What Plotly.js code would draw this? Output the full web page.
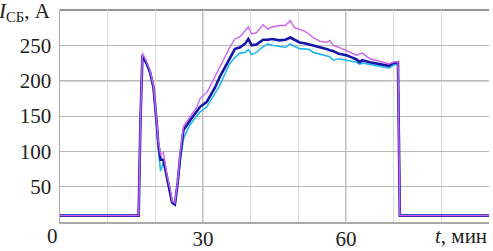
<!DOCTYPE html>
<html>
<head>
<meta charset="utf-8">
<script src="https://cdn.plot.ly/plotly-3.0.1.min.js"></script>
<style>html,body{margin:0;padding:0;background:#fff;}#chart{width:493px;height:251px;}</style>
</head>
<body>
<div id="chart"></div>
<script>
// time, minutes
const timeMin = [0, 16.5, 16.9, 17.3, 18.2, 18.9, 19.6, 19.9, 20.3, 20.6, 21.1, 21.7, 22.4, 23.1, 23.5, 24.1, 24.7, 25.2, 25.9, 27.3, 28.7, 29.4, 30.8, 31.4, 32.5, 33.5, 34.5, 35.6, 36.7, 37.7, 38.8, 39.5, 40.2, 41.2, 42.6, 43.6, 44.5, 46.1, 47.3, 48.3, 49.2, 50.3, 51.3, 52.4, 53.1, 54.5, 55.9, 56.6, 57.3, 58.5, 60.1, 61.2, 62.2, 62.9, 63.4, 65.0, 66.5, 68.0, 69.0, 70.0, 70.9, 71.3, 90];
// current, A
const currentCyan = [9, 9, 150, 235, 222, 210, 189, 168, 135, 105, 72, 85, 62, 44, 27, 24, 52, 85, 118, 138, 150, 156, 163, 170, 181, 193, 208, 224, 233, 239, 240, 244, 237, 240, 248, 252, 250, 248, 247, 252, 249, 245, 245, 244, 240, 238, 236, 234, 229, 231, 229, 227, 226, 223, 225, 223, 221, 219, 218, 222, 224, 9, 9];
const currentNavy = [9, 9, 150, 236, 224, 212, 191, 172, 140, 112, 88, 88, 65, 46, 28, 25, 56, 93, 130, 144, 156, 163, 170, 177, 190, 205, 218, 233, 245, 247, 252, 259, 250, 251, 258, 258, 259, 257, 258, 261, 258, 254, 253, 251, 250, 248, 245, 243, 242, 238, 236, 233, 230, 226, 229, 226, 224, 222, 221, 225, 226, 9, 9];
const currentMagenta = [9, 9, 150, 239, 226, 214, 193, 175, 143, 115, 95, 98, 68, 48, 30, 27, 58, 97, 135, 149, 162, 175, 183, 191, 205, 219, 232, 247, 259, 262, 270, 276, 266, 268, 279, 273, 276, 278, 278, 285, 275, 272, 270, 265, 261, 256, 254, 257, 250, 247, 243, 239, 236, 238, 239, 231, 228, 225, 224, 226, 227, 9, 9];
const xGridVals = [0, 10, 20, 30, 40, 50, 60, 70, 80, 90];
const xTickText = ['', '', '', '30', '', '', '60', '', '', ''];
const xMajor = [30, 60];
const yTicks = [50, 100, 150, 200, 250];

const fontFam = 'Liberation Serif';

const traces = [
  {x: timeMin, y: currentCyan, mode: 'lines', line: {color: '#22b8ee', width: 1.6}},
  {x: timeMin, y: currentNavy, mode: 'lines', line: {color: '#1616a8', width: 2.6}},
  {x: timeMin, y: currentMagenta, mode: 'lines', line: {color: '#cc62f0', width: 1.4}}
];

const shapes = xMajor.map(function (v) {
  return {type: 'line', xref: 'x', x0: v, x1: v, yref: 'paper', y0: 0, y1: 1, line: {color: '#a0a0a0', width: 1.3}, layer: 'below'};
}).concat([
  {type: 'line', xref: 'paper', x0: 0, x1: 1, yref: 'y', y0: 200, y1: 200, line: {color: '#606060', width: 1.2}, layer: 'below'},
  {type: 'line', xref: 'paper', x0: 0, x1: 1, yref: 'paper', y0: 1, y1: 1, line: {color: '#707070', width: 1.5}, layer: 'below'}
]);

const layout = {
  width: 493, height: 251,
  margin: {l: 60, r: 4, t: 10, b: 29},
  showlegend: false,
  font: {family: fontFam, size: 21, color: '#222'},
  xaxis: {
    range: [0, 90], tickvals: xGridVals, ticktext: xTickText,
    showgrid: true, gridcolor: '#dcdcdc', gridwidth: 1,
    showline: true, linecolor: '#aaaaaa', linewidth: 1.5,
    zeroline: false, ticklabelstandoff: -3,
    tickfont: {family: fontFam, size: 21, color: '#222'}
  },
  yaxis: {
    range: [0, 300], tickvals: yTicks,
    showgrid: true, gridcolor: '#b8b8b8', gridwidth: 1,
    showline: true, linecolor: '#aaaaaa', linewidth: 1.5,
    zeroline: false, ticklabelstandoff: 3,
    tickfont: {family: fontFam, size: 21, color: '#222'}
  },
  shapes: shapes,
  annotations: [
    {text: '<i>I</i><sub>СБ</sub>, А', xref: 'paper', yref: 'paper', x: 0, y: 1, xanchor: 'right', yanchor: 'middle', xshift: -7, yshift: -2, showarrow: false, font: {family: fontFam, size: 21, color: '#222'}},
    {text: '0', xref: 'paper', yref: 'paper', x: 0, y: 0, xanchor: 'center', yanchor: 'top', xshift: -8, yshift: 0, showarrow: false, font: {family: fontFam, size: 21, color: '#222'}},
    {text: '<i>t</i>, мин', xref: 'paper', yref: 'paper', x: 1, y: 0, xanchor: 'right', yanchor: 'top', xshift: 0, yshift: 0, showarrow: false, font: {family: fontFam, size: 21, color: '#222'}}
  ]
};

Plotly.newPlot('chart', traces, layout, {displayModeBar: false, staticPlot: true});
</script>
</body>
</html>
